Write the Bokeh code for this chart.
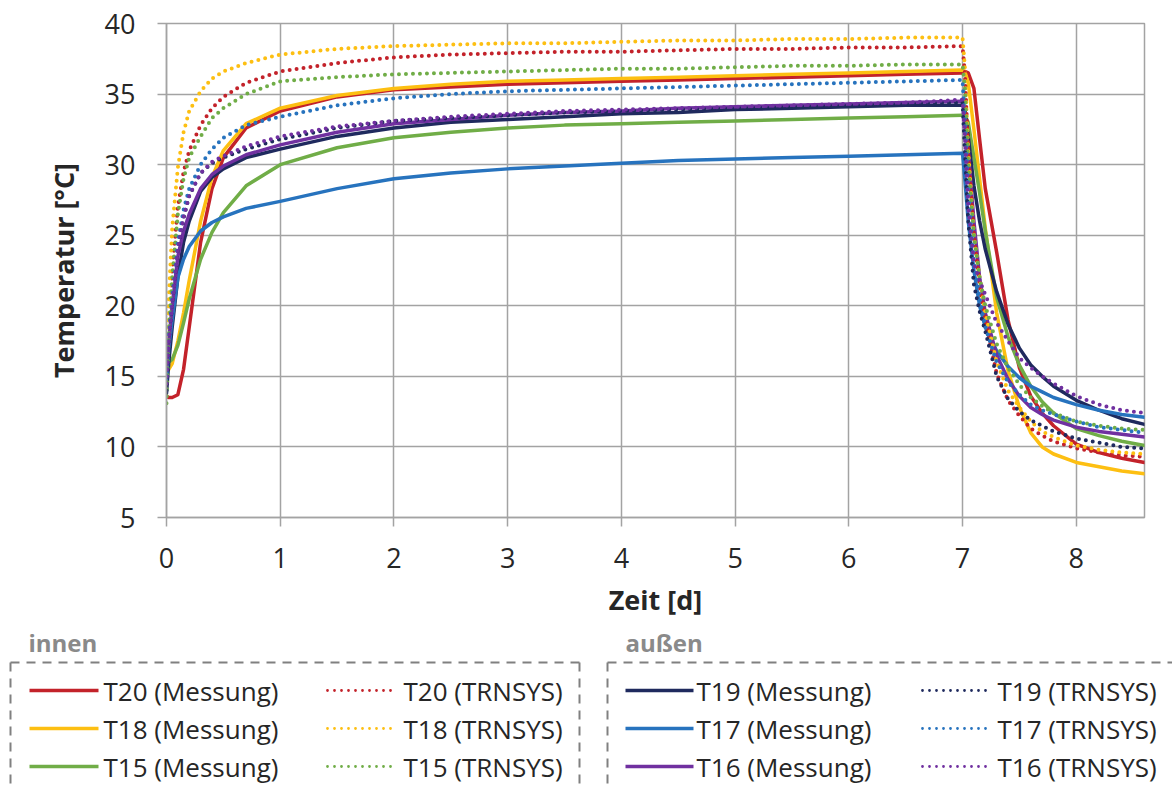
from bokeh.plotting import figure
from bokeh.models import Range1d, FixedTicker
from bokeh.layouts import column
from bokeh.embed import file_html
from bokeh.resources import INLINE
from bokeh.core.properties import value

# ---------------- data ----------------
zeit_d = [0.0, 0.02, 0.05, 0.1, 0.15, 0.2, 0.3, 0.4, 0.5, 0.7, 1.0, 1.5, 2.0, 2.5, 3.0, 3.5, 4.0, 4.5,
          5.0, 5.5, 6.0, 6.5, 7.0, 7.02, 7.05, 7.1, 7.15, 7.2, 7.3, 7.4, 7.5, 7.6, 7.7, 7.8, 8.0, 8.2, 8.4, 8.6]

t20_messung = [13.6, 13.5, 13.5, 13.7, 15.5, 18.5, 24.5, 28.3, 30.5, 32.6, 33.8, 34.8, 35.3, 35.5, 35.7, 35.8, 35.9, 36.0, 36.1,
               36.2, 36.3, 36.4, 36.5, 36.6, 36.5, 35.4, 31.8, 28.3, 23.8, 19.0, 15.6, 13.6, 12.4, 11.5, 10.2, 9.6, 9.2, 8.9]
t20_trnsys = [14.5, 18.5, 22.5, 27.0, 29.5, 31.0, 32.8, 34.0, 34.8, 35.8, 36.6, 37.2, 37.6, 37.8, 37.9, 38.0, 38.0, 38.1, 38.2,
              38.2, 38.3, 38.3, 38.4, 36.5, 31.0, 25.0, 21.5, 19.0, 15.2, 13.3, 12.2, 11.3, 10.8, 10.4, 9.9, 9.6, 9.4, 9.3]
t18_messung = [15.3, 15.5, 15.9, 17.5, 19.5, 21.8, 26.0, 29.1, 31.0, 32.9, 34.0, 34.9, 35.4, 35.7, 35.9, 36.0, 36.1, 36.2, 36.3,
               36.4, 36.5, 36.6, 36.7, 36.6, 35.8, 32.5, 29.0, 25.5, 19.5, 15.4, 12.8, 11.0, 10.0, 9.5, 8.9, 8.6, 8.3, 8.1]
t18_trnsys = [15.5, 20.5, 25.5, 29.8, 32.3, 33.8, 35.2, 36.1, 36.6, 37.2, 37.8, 38.2, 38.4, 38.5, 38.6, 38.6, 38.7, 38.8, 38.8,
              38.9, 38.9, 39.0, 39.0, 37.0, 31.0, 25.0, 22.0, 19.5, 16.0, 14.0, 12.8, 11.8, 11.1, 10.7, 10.1, 9.8, 9.6, 9.5]
t15_messung = [15.8, 16.0, 16.2, 17.2, 18.8, 20.5, 23.3, 25.2, 26.6, 28.5, 30.0, 31.2, 31.9, 32.3, 32.6, 32.8, 32.9, 33.0, 33.1,
               33.2, 33.3, 33.4, 33.5, 33.5, 33.0, 30.5, 28.0, 25.3, 20.6, 17.8, 15.8, 14.3, 13.2, 12.4, 11.3, 10.8, 10.4, 10.1]
t15_trnsys = [13.1, 18.0, 22.0, 26.5, 29.0, 30.5, 32.0, 33.3, 34.0, 35.0, 35.9, 36.2, 36.4, 36.5, 36.6, 36.7, 36.8, 36.8, 36.9,
              37.0, 37.0, 37.1, 37.1, 35.5, 30.0, 25.0, 22.0, 20.0, 17.3, 15.6, 14.4, 13.5, 12.9, 12.4, 11.8, 11.5, 11.3, 11.2]
t19_messung = [13.8, 16.0, 18.5, 22.0, 24.5, 26.0, 28.1, 29.1, 29.7, 30.5, 31.1, 32.0, 32.6, 33.0, 33.2, 33.4, 33.6, 33.7, 33.9,
               34.0, 34.1, 34.2, 34.2, 34.0, 32.0, 28.5, 26.0, 24.0, 21.0, 18.7, 17.0, 15.8, 15.0, 14.3, 13.3, 12.6, 12.0, 11.6]
t19_trnsys = [14.0, 17.5, 20.0, 24.0, 26.2, 27.8, 29.4, 30.1, 30.5, 31.1, 31.8, 32.6, 33.1, 33.3, 33.5, 33.7, 33.8, 33.9, 34.0,
              34.1, 34.2, 34.3, 34.4, 31.0, 26.0, 21.5, 19.6, 18.2, 15.0, 13.4, 12.5, 11.9, 11.5, 11.1, 10.6, 10.3, 10.0, 9.9]
t17_messung = [14.8, 17.0, 19.0, 22.0, 23.3, 24.2, 25.3, 25.9, 26.3, 26.9, 27.4, 28.3, 29.0, 29.4, 29.7, 29.9, 30.1, 30.3, 30.4,
               30.5, 30.6, 30.7, 30.8, 29.0, 26.0, 22.5, 20.0, 18.5, 16.8, 15.7, 14.9, 14.3, 13.9, 13.5, 13.0, 12.6, 12.3, 12.1]
t17_trnsys = [15.0, 18.0, 20.5, 24.5, 26.8, 28.3, 30.0, 31.1, 31.9, 32.8, 33.4, 34.2, 34.7, 35.0, 35.2, 35.3, 35.4, 35.5, 35.6,
              35.7, 35.8, 35.9, 36.0, 33.0, 28.0, 23.0, 20.5, 18.5, 16.0, 14.6, 13.7, 13.0, 12.6, 12.3, 11.8, 11.4, 11.2, 11.0]
t16_messung = [15.5, 17.5, 20.0, 23.5, 25.3, 26.5, 28.3, 29.3, 29.9, 30.7, 31.4, 32.3, 32.9, 33.2, 33.5, 33.7, 33.8, 34.0, 34.1,
               34.2, 34.3, 34.4, 34.5, 33.5, 31.0, 26.0, 22.0, 19.5, 16.5, 14.8, 13.6, 12.8, 12.3, 11.9, 11.4, 11.1, 10.9, 10.7]
t16_trnsys = [14.5, 17.5, 20.0, 24.0, 26.3, 27.8, 29.4, 30.2, 30.6, 31.3, 32.0, 32.7, 33.1, 33.4, 33.6, 33.8, 33.9, 34.0, 34.1,
              34.2, 34.3, 34.4, 34.6, 32.0, 27.0, 23.0, 21.8, 20.8, 18.8, 17.5, 16.3, 15.6, 15.0, 14.5, 13.6, 13.0, 12.6, 12.4]

x_ticks = [0, 1, 2, 3, 4, 5, 6, 7, 8]
y_ticks = [5, 10, 15, 20, 25, 30, 35, 40]

innen_labels = [("T20 (Messung)", "T20 (TRNSYS)"), ("T18 (Messung)", "T18 (TRNSYS)"), ("T15 (Messung)", "T15 (TRNSYS)")]
aussen_labels = [("T19 (Messung)", "T19 (TRNSYS)"), ("T17 (Messung)", "T17 (TRNSYS)"), ("T16 (Messung)", "T16 (TRNSYS)")]

# ---------------- style ----------------
RED = "#C3222A"
YELLOW = "#FDBF12"
GREEN = "#70AD47"
NAVY = "#1F2A5E"
BLUE = "#2773BE"
PURPLE = "#7030A0"
GRID = "#A3A3A3"
TXT = "#262626"
FONT = "Open Sans"

measured = [(t20_messung, RED), (t18_messung, YELLOW), (t15_messung, GREEN),
            (t19_messung, NAVY), (t17_messung, BLUE), (t16_messung, PURPLE)]
simulated = [(t20_trnsys, RED), (t18_trnsys, YELLOW), (t15_trnsys, GREEN),
             (t19_trnsys, NAVY), (t17_trnsys, BLUE), (t16_trnsys, PURPLE)]

W = 1172
MAIN_H = 620
p = figure(width=W, height=MAIN_H, x_range=Range1d(0, 8.6), y_range=Range1d(5, 40),
           output_backend="svg", toolbar_location=None, tools="",
           min_border_left=166, min_border_right=28, min_border_top=23, min_border_bottom=98,
           frame_align=False)
p.background_fill_color = "white"
p.border_fill_color = "white"
p.outline_line_color = GRID
p.outline_line_width = 1.5

p.xaxis.ticker = FixedTicker(ticks=x_ticks)
p.yaxis.ticker = FixedTicker(ticks=y_ticks)
p.xgrid.ticker = FixedTicker(ticks=x_ticks)
p.ygrid.ticker = FixedTicker(ticks=y_ticks)
for g in (p.xgrid, p.ygrid):
    g.grid_line_color = GRID
    g.grid_line_width = 1.5
for ax in (p.xaxis, p.yaxis):
    ax.axis_line_color = GRID
    ax.axis_line_width = 1.5
    ax.major_tick_line_color = GRID
    ax.major_tick_line_width = 1.5
    ax.major_tick_out = 9
    ax.major_tick_in = 0
    ax.minor_tick_line_color = None
    ax.major_label_text_font = FONT
    ax.major_label_text_font_size = "27px"
    ax.major_label_text_color = TXT
    ax.axis_label_text_font = FONT
    ax.axis_label_text_font_size = "27px"
    ax.axis_label_text_font_style = "bold"
    ax.axis_label_text_color = TXT
p.xaxis.axis_label = "Zeit [d]"
p.yaxis.axis_label = "Temperatur [°C]"
p.xaxis.major_label_standoff = 21
p.yaxis.major_label_standoff = 22
p.xaxis.axis_label_standoff = 10
p.yaxis.axis_label_standoff = 20

for ys, c in measured:
    p.line(zeit_d, ys, line_color=c, line_width=3.5, line_join="round", line_cap="round")
for ys, c in simulated:
    p.line(zeit_d, ys, line_color=c, line_width=4, line_dash="0 7", line_cap="round")

# ---------------- legend panel ----------------
LH = 787 - MAIN_H
leg = figure(width=W, height=LH, x_range=Range1d(0, W), y_range=Range1d(LH, 0),
             output_backend="svg", toolbar_location=None, tools="",
             min_border=0, x_axis_location=None, y_axis_location=None, frame_align=False)
leg.outline_line_color = None
leg.grid.visible = False
leg.background_fill_color = "white"
leg.border_fill_color = "white"

BOX = "#808080"
rows_y = [70, 108, 146]
groups = [
    dict(title="innen", tx=28, bl=10, br=579, sx=(29, 98), st=103, dx=(327, 392), dt=403,
         labels=innen_labels, colors=[RED, YELLOW, GREEN]),
    dict(title="au\u00dfen", tx=625, bl=607, br=1220, sx=(625, 693), st=696, dx=(922, 987), dt=997,
         labels=aussen_labels, colors=[NAVY, BLUE, PURPLE]),
]
for g in groups:
    leg.text(x=[g["tx"]], y=[22], text=[g["title"]], text_font=value(FONT), text_font_size="24px",
             text_font_style="bold", text_color="#8A8A8A", text_baseline="middle")
    # dashed box (top, left, right); bottom edge lies outside the visible page
    leg.line([g["bl"], g["br"]], [42, 42], line_color=BOX, line_width=2, line_dash="9 7")
    leg.line([g["bl"], g["bl"]], [42, LH + 5], line_color=BOX, line_width=2, line_dash="9 7")
    leg.line([g["br"], g["br"]], [42, LH + 5], line_color=BOX, line_width=2, line_dash="9 7")
    for (lm, lt), c, yy in zip(g["labels"], g["colors"], rows_y):
        leg.line(list(g["sx"]), [yy, yy], line_color=c, line_width=3.5)
        leg.line(list(g["dx"]), [yy, yy], line_color=c, line_width=2.8, line_dash="0 7", line_cap="round")
        leg.text(x=[g["st"]], y=[yy], text=[lm], text_font=value(FONT), text_font_size="26px",
                 text_color=TXT, text_baseline="middle")
        leg.text(x=[g["dt"]], y=[yy], text=[lt], text_font=value(FONT), text_font_size="26px",
                 text_color=TXT, text_baseline="middle")

layout = column(p, leg, spacing=0)
open("out.html", "w").write(file_html(layout, INLINE, title="Temperatur"))
